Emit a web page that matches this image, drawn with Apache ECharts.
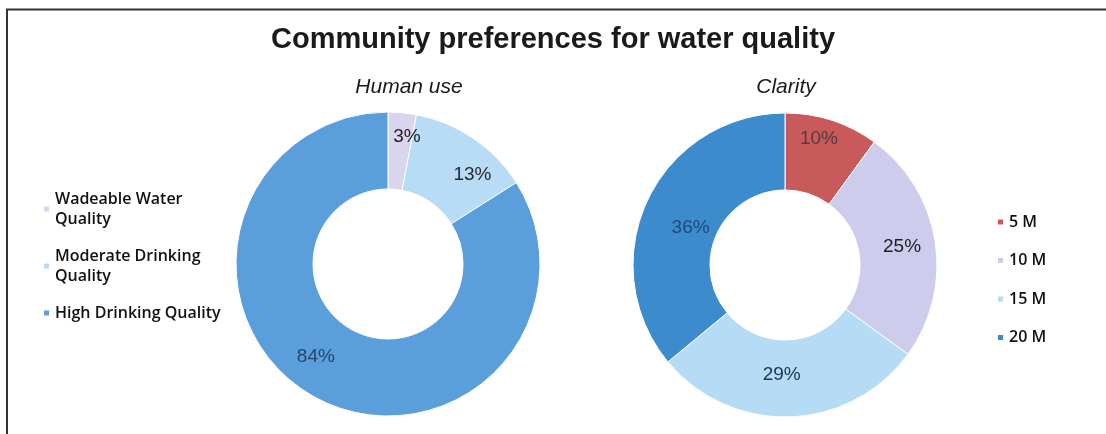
<!DOCTYPE html>
<html>
<head>
<meta charset="utf-8">
<script src="https://cdn.jsdelivr.net/npm/echarts@6/dist/echarts.min.js"></script>
<style>html,body{margin:0;padding:0;background:#fff;}#c{width:1106px;height:434px;}</style>
</head>
<body>
<div id="c"></div>
<script>
const chartTitle = 'Community preferences for water quality';
const humanTitle = 'Human use';
const clarityTitle = 'Clarity';
const humanCategories = ['Wadeable Water Quality', 'Moderate Drinking Quality', 'High Drinking Quality'];
const humanValues = [3, 13, 84];
const clarityCategories = ['5 M', '10 M', '15 M', '20 M'];
const clarityValues = [10, 25, 29, 36];

// styling
const humanColors = ['#d9d5ee', '#b9dcf6', '#5a9fdb'];
const clarityColors = ['#c95a5c', '#cdcced', '#b6dbf5', '#3c8ccd'];
const humanLabelColors = ['#1e1e1e', '#2a2a2a', '#27476a'];
const clarityLabelColors = ['#553c3c', '#1e1e1e', '#1b3552', '#1d4a7a'];
const humanLabelShift = [[8, -11], [19, 7], [-16, -9]];
const clarityLabelShift = [[-2, -15], [2, 0], [-7, -7], [11, 12]];

const chart = echarts.init(document.getElementById('c'));
function mkData(names, vals, colors, lcolors) {
  return names.map((n, i) => ({
    name: n, value: vals[i], itemStyle: { color: colors[i] },
    label: { color: lcolors[i] }
  }));
}
chart.setOption({
  animation: false,
  title: [
    { text: chartTitle, left: 548, top: 20, textAlign: 'center',
      textStyle: { fontFamily: 'Liberation Sans, Arial', fontWeight: 'bold', fontSize: 29, color: '#1a1a1a' } },
    { text: humanTitle, left: 404, top: 72, textAlign: 'center',
      textStyle: { fontFamily: 'Liberation Sans, Arial', fontStyle: 'italic', fontWeight: 'normal', fontSize: 21, color: '#1a1a1a' } },
    { text: clarityTitle, left: 781, top: 72, textAlign: 'center',
      textStyle: { fontFamily: 'Liberation Sans, Arial', fontStyle: 'italic', fontWeight: 'normal', fontSize: 21, color: '#1a1a1a' } }
  ],
  legend: [
    { data: humanCategories, orient: 'vertical', left: 37, top: 184,
      itemWidth: 7, itemHeight: 7, itemGap: 17, icon: 'rect',
      formatter: function (n) { return n.replace(' Water ', ' Water\n').replace('Moderate Drinking ', 'Moderate Drinking\n'); },
      textStyle: { fontFamily: 'Open Sans, Liberation Sans', fontSize: 16, fontWeight: 600, color: '#111', lineHeight: 20 } },
    { data: clarityCategories, orient: 'vertical', left: 991, top: 207,
      itemWidth: 7, itemHeight: 7, itemGap: 18.5, icon: 'rect',
      textStyle: { fontFamily: 'Open Sans, Liberation Sans', fontSize: 16, fontWeight: 600, color: '#111', lineHeight: 20 } }
  ],
  series: [
    { type: 'pie', name: humanTitle, center: [388, 264], radius: [75, 152],
      startAngle: 90, clockwise: true,
      label: { show: true, position: 'inside', formatter: '{c}%', fontFamily: 'Liberation Sans, Arial', fontSize: 19 },
      labelLine: { show: false },
      labelLayout: function (p) { const s = humanLabelShift[p.dataIndex]; return { dx: s[0], dy: s[1] }; },
      itemStyle: { borderColor: '#fff', borderWidth: 1 },
      data: mkData(humanCategories, humanValues, humanColors, humanLabelColors) },
    { type: 'pie', name: clarityTitle, center: [785, 265], radius: [75, 152],
      startAngle: 90, clockwise: true,
      label: { show: true, position: 'inside', formatter: '{c}%', fontFamily: 'Liberation Sans, Arial', fontSize: 19 },
      labelLine: { show: false },
      labelLayout: function (p) { const s = clarityLabelShift[p.dataIndex]; return { dx: s[0], dy: s[1] }; },
      itemStyle: { borderColor: '#fff', borderWidth: 1 },
      data: mkData(clarityCategories, clarityValues, clarityColors, clarityLabelColors) }
  ],
  graphic: [
    { type: 'line', shape: { x1: 6, y1: 9.5, x2: 1106, y2: 9.5 }, style: { stroke: '#333', lineWidth: 2 } },
    { type: 'line', shape: { x1: 7, y1: 9, x2: 7, y2: 434 }, style: { stroke: '#333', lineWidth: 2 } }
  ]
});
</script>
</body>
</html>
